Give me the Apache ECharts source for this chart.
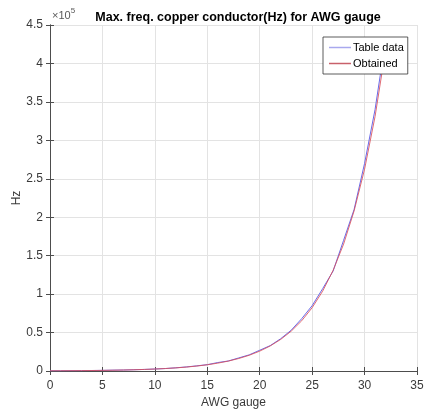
<!DOCTYPE html>
<html>
<head>
<meta charset="utf-8">
<script src="https://cdn.jsdelivr.net/npm/echarts@6/dist/echarts.min.js"></script>
<style>html,body{margin:0;padding:0;background:#fff}#c{width:427px;height:417px}</style>
</head>
<body>
<div id="c"></div>
<script>
var awg = [0,1,2,3,4,5,6,7,8,9,10,11,12,13,14,15,16,17,18,19,20,21,22,23,24,25,26,27,28,29,30,31,32];
var tableData = [250,325,410,500,650,810,1100,1300,1650,2050,2600,3200,4150,5300,6700,8250,11000,13000,17000,21000,27000,33000,42000,53000,68000,85000,107000,130000,170000,210000,270000,340000,430000];
var obtained = [250,315,398,501,632,797,1005,1267,1598,2015,2541,3204,4040,5094,6424,8100,10214,12880,16241,20480,25824,32564,41062,51777,65290,82329,103814,130906,165069,208147,262468,330965,417336];
var xTicks = [0,5,10,15,20,25,30,35];
var yTickLabels = ['0','0.5','1','1.5','2','2.5','3','3.5','4','4.5'];

var font = 'Liberation Sans, Arial, sans-serif';
var axisCol = '#4d4d4d';
var textCol = '#3a3a3a';
function pairs(xs, ys){ return xs.map(function(x,i){ return [x, ys[i]]; }); }

var chart = echarts.init(document.getElementById('c'), null, {renderer:'canvas'});
chart.setOption({
  animation:false,
  backgroundColor:'#fff',
  title:{text:'Max. freq. copper conductor(Hz) for AWG gauge', left:233, textAlign:'center', top:6,
    textStyle:{fontFamily:font, fontSize:12.5, fontWeight:'bold', color:'#000'}},
  grid:{left:50, right:10, top:25, bottom:46, outerBoundsMode:'none', containLabel:false},
  legend:{
    data:[{name:'Table data', itemStyle:{color:'#a8a8ee'}},{name:'Obtained', itemStyle:{color:'#c8606a'}}],
    orient:'vertical', left:323, top:37,
    backgroundColor:'#fff', borderColor:'#333', borderWidth:0.8, borderRadius:0,
    padding:[5,4,5,6], itemWidth:22, itemHeight:1.5, itemGap:5,
    icon:'rect',
    textStyle:{fontFamily:font, fontSize:11, color:'#000', padding:[0,0,0,-3]}
  },
  xAxis:[{
    type:'value', min:0, max:35, interval:5,
    name:'AWG gauge', nameLocation:'middle', nameGap:21,
    nameTextStyle:{fontFamily:font, fontSize:12, color:textCol},
    axisLine:{show:true, onZero:false, lineStyle:{color:axisCol, width:1}},
    axisTick:{show:true, inside:true, length:4, lineStyle:{color:axisCol}},
    axisLabel:{fontFamily:font, fontSize:12, color:textCol, margin:9,
      formatter:function(v){ return xTicks.indexOf(v)>=0 ? String(v) : ''; }},
    splitLine:{show:true, lineStyle:{color:'#e3e3e3', width:1}}
  },{
    type:'value', position:'top', min:0, max:35, interval:5,
    axisLine:{show:true, lineStyle:{color:axisCol, width:1}},
    axisTick:{show:true, inside:true, length:4, lineStyle:{color:axisCol}},
    axisLabel:{show:false}, splitLine:{show:false}
  }],
  yAxis:[{
    type:'value', min:0, max:450000, interval:50000,
    name:'Hz', nameLocation:'middle', nameGap:27, nameRotate:90, nameMoveOverlap:false,
    nameTextStyle:{fontFamily:font, fontSize:12, color:textCol},
    axisLine:{show:true, onZero:false, lineStyle:{color:axisCol, width:1}},
    axisTick:{show:true, inside:true, length:4, lineStyle:{color:axisCol}},
    axisLabel:{fontFamily:font, fontSize:12, color:textCol, margin:7,
      formatter:function(v){ return yTickLabels[Math.round(v/50000)]; }},
    splitLine:{show:true, lineStyle:{color:'#e3e3e3', width:1}}
  },{
    type:'value', position:'right', min:0, max:450000, interval:50000,
    axisLine:{show:true, lineStyle:{color:axisCol, width:1}},
    axisTick:{show:true, inside:true, length:4, lineStyle:{color:axisCol}},
    axisLabel:{show:false}, splitLine:{show:false}
  }],
  graphic:[{
    type:'text', left:52, top:7,
    style:{text:'{a|×10}{b|5}', rich:{
      a:{fontFamily:font, fontSize:11, fill:'#595959', verticalAlign:'bottom'},
      b:{fontFamily:font, fontSize:8, fill:'#595959', verticalAlign:'top', padding:[0,0,6,0]}
    }}
  }],
  series:[{
    name:'Table data', type:'line', data:pairs(awg, tableData), showSymbol:false, symbol:'none',
    smooth:false, lineStyle:{color:'#6a6ae8', width:1}, itemStyle:{color:'#a8a8ee'}, clip:true, z:2
  },{
    name:'Obtained', type:'line', data:pairs(awg, obtained), showSymbol:false, symbol:'none',
    smooth:false, lineStyle:{color:'#d9505a', width:1, opacity:0.85}, itemStyle:{color:'#c8606a'}, clip:true, z:3
  }]
});
</script>
</body>
</html>
